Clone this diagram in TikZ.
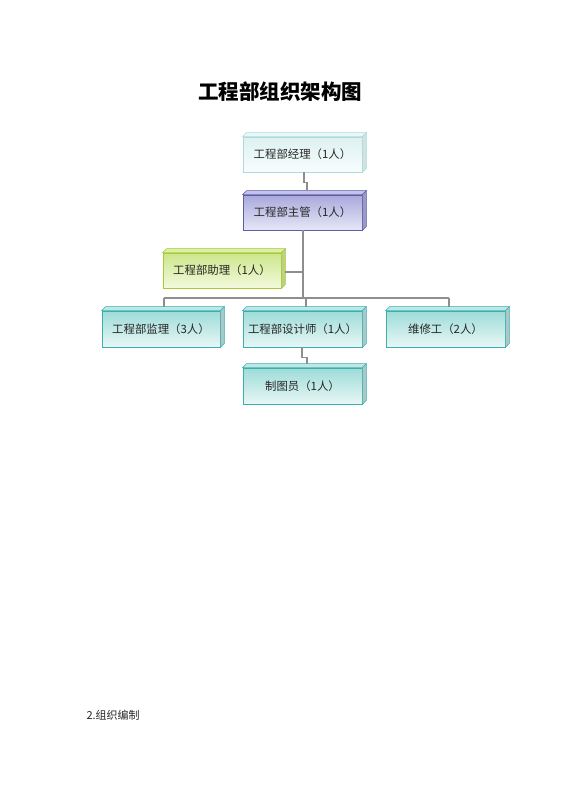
\documentclass[tikz,border=0pt]{standalone}
\usepackage{fontspec}
\setmainfont{Noto Sans CJK SC}
\usetikzlibrary{calc}
\definecolor{conn}{HTML}{8E8E8E}
\tikzset{
  x=1pt,y=-1pt,
  orgbox/.style={draw, line width=0.8pt, minimum width=118pt, minimum height=35pt,
     inner sep=0pt, font=\fontsize{11.4}{13}\selectfont, text=black!85, shading=axis},
  bxA/.style={orgbox, draw=bAb, top color=bAt, bottom color=bAbot},
  bxB/.style={orgbox, draw=bBb, top color=bBt, bottom color=bBbot},
  bxC/.style={orgbox, draw=bCb, top color=bCt, bottom color=bCbot},
  bxD/.style={orgbox, draw=bDb, top color=bDt, bottom color=bDbot},
  connline/.style={draw=conn, line width=1.8pt},
}
\definecolor{bAb}{HTML}{AEDADA}\definecolor{bAt}{HTML}{DDF1F1}\definecolor{bAbot}{HTML}{F8FDFD}
\definecolor{bAtop}{HTML}{EAF7F7}\definecolor{bAside}{HTML}{CFE3E3}
\definecolor{bBb}{HTML}{5C5CAA}\definecolor{bBt}{HTML}{A9A9DC}\definecolor{bBbot}{HTML}{E6E6F7}
\definecolor{bBtop}{HTML}{C3C3EA}\definecolor{bBside}{HTML}{9A9AC8}
\definecolor{bCb}{HTML}{A6C93E}\definecolor{bCt}{HTML}{CCE68A}\definecolor{bCbot}{HTML}{F3FADD}
\definecolor{bCtop}{HTML}{DDEFA0}\definecolor{bCside}{HTML}{BDD27A}
\definecolor{bDb}{HTML}{3DAEAE}\definecolor{bDt}{HTML}{9EDCD8}\definecolor{bDbot}{HTML}{E7F7F6}
\definecolor{bDtop}{HTML}{BCE9E5}\definecolor{bDside}{HTML}{A9C9C8}
% 3D extrusion: #1 node name, #2 prefix of colours
\newcommand{\extrudebox}[2]{%
  \filldraw[draw=#2b, fill=#2top, line width=0.6pt] (#1.north west) -- ++(4,-4) -- ($(#1.north east)+(4,-4)$) -- (#1.north east) -- cycle;
  \filldraw[draw=#2b, fill=#2side, line width=0.6pt] (#1.north east) -- ++(4,-4) -- ($(#1.south east)+(4,-4)$) -- (#1.south east) -- cycle;
}
\begin{document}
\begin{tikzpicture}
\useasboundingbox[fill=white] (0,0) rectangle (560,792);
\node[font=\fontsize{20.5}{24}\selectfont\bfseries] (title) at (280,92) {工程部组织架构图};

\node[bxA, minimum width=119pt] (b1) at (302.5,154.5) {工程部经理（1人）};
\node[bxB, minimum width=119pt] (b2) at (302.5,212.5) {工程部主管（1人）};
\node[bxC] (b3) at (222,270.5) {工程部助理（1人）};
\node[bxD, minimum height=36pt] (b4) at (161,329) {工程部监理（3人）};
\node[bxD, minimum height=36pt, minimum width=119pt] (b5) at (302.5,329) {工程部设计师（1人）};
\node[bxD, minimum height=36pt, minimum width=119pt] (b6) at (445.5,329) {维修工（2人）};
\node[bxD, minimum height=36pt, minimum width=119pt] (b7) at (302.5,386) {制图员（1人）};

\extrudebox{b1}{bA}
\extrudebox{b2}{bB}
\extrudebox{b3}{bC}
\extrudebox{b4}{bD}
\extrudebox{b5}{bD}
\extrudebox{b6}{bD}
\extrudebox{b7}{bD}

\coordinate (bus) at (303,298);
\coordinate (busL) at (164,298);
\coordinate (busR) at (449,298);
\coordinate (b3j) at (285,272);

\draw[connline] ([xshift=1.5pt]b1.south) -- ++(0,10) -| ([xshift=4.5pt,yshift=4pt]b2.north);
\draw[connline] ([xshift=0.5pt]b2.south) -- (bus);
\draw[connline] (b3j) -- (b3j -| bus);
\draw[connline] (busL) -- (busR);
\draw[connline] (busL) -- ([xshift=3pt,yshift=4pt]b4.north);
\draw[connline] (bus -| 306,0) -- ([xshift=3.5pt,yshift=4pt]b5.north);
\draw[connline] (busR) -- ([xshift=3.5pt,yshift=4pt]b6.north);
\draw[connline] ([xshift=-0.5pt]b5.south) -- ++(0,10) -| ([xshift=4.5pt,yshift=4pt]b7.north);

\node[anchor=west, font=\fontsize{11}{13}\selectfont, text=black!85] (sec) at (83,715) {2.组织编制};
\end{tikzpicture}
\end{document}
